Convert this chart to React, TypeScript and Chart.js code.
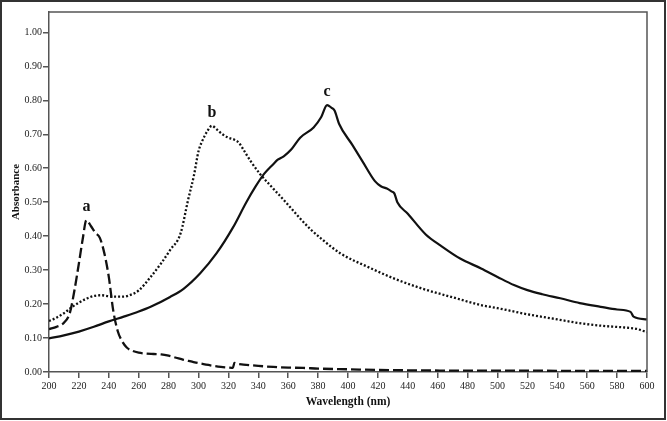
import React, { useEffect, useRef } from "react";
import { Chart, registerables } from "chart.js";

Chart.register(...registerables);

// Spectrum a (dashed)
const aWavelength = [200, 205, 210, 214, 217, 220, 222.5, 225, 228, 231, 234, 237, 240, 243, 246, 249, 252, 256, 260, 265, 270, 275, 280, 285, 290, 295, 300, 305, 310, 315, 320, 323, 324, 326, 330, 340, 350, 360, 370, 380, 400, 420, 440, 480, 520, 560, 600];
const aAbsorbance = [0.126, 0.133, 0.145, 0.175, 0.24, 0.32, 0.39, 0.447, 0.43, 0.41, 0.395, 0.35, 0.28, 0.18, 0.12, 0.09, 0.072, 0.062, 0.057, 0.054, 0.053, 0.052, 0.048, 0.042, 0.036, 0.031, 0.026, 0.022, 0.018, 0.015, 0.013, 0.012, 0.027, 0.024, 0.022, 0.018, 0.015, 0.013, 0.012, 0.01, 0.008, 0.006, 0.005, 0.004, 0.004, 0.003, 0.003];

// Spectrum b (dotted)
const bWavelength = [200, 205, 210, 215, 220, 225, 230, 235, 240, 245, 250, 255, 260, 268, 275, 281, 288, 293, 297, 300, 303, 306, 309, 312, 316, 320, 324, 327, 330, 335, 341, 350, 359, 368, 375, 382, 395, 413, 431, 450, 470, 489, 500, 520, 540, 556, 570, 585, 593, 600];
const bAbsorbance = [0.15, 0.16, 0.173, 0.19, 0.204, 0.216, 0.224, 0.226, 0.223, 0.222, 0.222, 0.228, 0.24, 0.28, 0.32, 0.359, 0.408, 0.506, 0.58, 0.65, 0.685, 0.71, 0.725, 0.715, 0.7, 0.69, 0.684, 0.675, 0.655, 0.62, 0.584, 0.54, 0.497, 0.452, 0.42, 0.393, 0.349, 0.31, 0.275, 0.245, 0.22, 0.197, 0.188, 0.17, 0.155, 0.143, 0.136, 0.131, 0.127, 0.117];

// Spectrum c (solid)
const cWavelength = [200, 210, 220, 230, 240, 250, 260, 268, 281, 290, 301, 312, 323, 332, 338, 344, 350, 353, 357, 362, 368, 377, 382, 386, 389, 391, 394, 403, 410, 418, 422, 426, 429, 431, 433, 440, 452, 462, 475, 489, 500, 511, 520, 530, 542, 555, 569, 580, 589, 591, 600];
const cAbsorbance = [0.099, 0.108, 0.119, 0.133, 0.149, 0.163, 0.178, 0.192, 0.221, 0.245, 0.29, 0.349, 0.425, 0.5, 0.545, 0.584, 0.612, 0.625, 0.635, 0.655, 0.69, 0.72, 0.75, 0.786, 0.778, 0.77, 0.731, 0.668, 0.618, 0.562, 0.547, 0.54, 0.532, 0.526, 0.5, 0.466, 0.405, 0.372, 0.334, 0.305, 0.28, 0.256, 0.241, 0.229, 0.217, 0.203, 0.192, 0.184, 0.177, 0.163, 0.155];

const seriesLabels = ["a", "b", "c"];
const xTitle = "Wavelength (nm)";
const yTitle = "Absorbance";

const SERIF = "'Liberation Serif', 'Times New Roman', serif";

const toPoints = (xs: number[], ys: number[]) => xs.map((x, i) => ({ x, y: ys[i] }));

const decorPlugin = {
  id: "decor",
  afterDraw(chart: any) {
    const { ctx, chartArea } = chart;
    const { left, top, right, bottom } = chartArea;
    ctx.save();
    ctx.strokeStyle = "#555";
    ctx.lineWidth = 1.5;
    ctx.beginPath();
    ctx.moveTo(left, top);
    ctx.lineTo(right, top);
    ctx.lineTo(right, bottom);
    ctx.stroke();
    ctx.strokeStyle = "#333";
    ctx.lineWidth = 2;
    ctx.strokeRect(1, 1, chart.width - 3, chart.height - 3);
    ctx.fillStyle = "#111";
    ctx.font = `bold 16px ${SERIF}`;
    ctx.textAlign = "center";
    ctx.textBaseline = "bottom";
    chart.data.datasets.forEach((ds: any, i: number) => {
      let best = ds.data[0];
      ds.data.forEach((p: any) => {
        if (p.y > best.y) best = p;
      });
      const px = chart.scales.x.getPixelForValue(best.x);
      const py = chart.scales.y.getPixelForValue(best.y);
      ctx.fillText(seriesLabels[i], px, py - 5);
    });
    ctx.restore();
  },
};

export default function App() {
  const ref = useRef<HTMLCanvasElement>(null);
  useEffect(() => {
    if (!ref.current) return;
    const chart = new Chart(ref.current, {
      type: "line",
      data: {
        datasets: [
          {
            label: seriesLabels[0],
            data: toPoints(aWavelength, aAbsorbance),
            borderColor: "#111",
            borderWidth: 2.3,
            borderDash: [10, 4],
            pointRadius: 0,
            cubicInterpolationMode: "monotone",
          },
          {
            label: seriesLabels[1],
            data: toPoints(bWavelength, bAbsorbance),
            borderColor: "#111",
            borderWidth: 2.3,
            borderDash: [2, 2],
            pointRadius: 0,
            cubicInterpolationMode: "monotone",
          },
          {
            label: seriesLabels[2],
            data: toPoints(cWavelength, cAbsorbance),
            borderColor: "#111",
            borderWidth: 2.2,
            pointRadius: 0,
            cubicInterpolationMode: "monotone",
          },
        ],
      },
      options: {
        responsive: false,
        animation: false,
        devicePixelRatio: 1,
        layout: { padding: { left: 0, top: 12, right: 20, bottom: 0 } },
        plugins: { legend: { display: false }, tooltip: { enabled: false } },
        scales: {
          x: {
            type: "linear",
            min: 200,
            max: 600,
            afterFit: (s: any) => {
              s.height = 49;
            },
            border: { display: true, color: "#555", width: 1.5 },
            grid: { display: true, drawOnChartArea: false, drawTicks: true, tickLength: 6, color: "#555", lineWidth: 1.5 },
            ticks: {
              stepSize: 20,
              color: "#222",
              padding: 2,
              maxRotation: 0,
              autoSkip: false,
              font: { family: SERIF, size: 10 },
              callback: (v: any) => String(v),
            },
            title: {
              display: true,
              text: xTitle,
              color: "#111",
              font: { family: SERIF, size: 11.5, weight: "bold" },
              padding: { top: 0, bottom: 12 },
            },
          },
          y: {
            type: "linear",
            min: 0,
            max: 1.06,
            afterFit: (s: any) => {
              s.width = 49;
            },
            afterBuildTicks: (s: any) => {
              s.ticks = s.ticks.filter((t: any) => t.value <= 1.0001);
            },
            border: { display: true, color: "#555", width: 1.5 },
            grid: { display: true, drawOnChartArea: false, drawTicks: true, tickLength: 6, color: "#555", lineWidth: 1.5 },
            ticks: {
              stepSize: 0.1,
              color: "#222",
              padding: 1,
              autoSkip: false,
              font: { family: SERIF, size: 10 },
              callback: (v: any) => Number(v).toFixed(2),
            },
            title: {
              display: true,
              text: yTitle,
              color: "#111",
              font: { family: SERIF, size: 11, weight: "bold" },
              padding: { top: 10, bottom: 0 },
            },
          },
        },
      },
      plugins: [decorPlugin],
    } as any);
    return () => chart.destroy();
  }, []);
  return (
    <div style={{ position: "absolute", left: 0, top: 0, width: 667, height: 421, background: "#fff" }}>
      <canvas ref={ref} width={667} height={421} />
    </div>
  );
}
